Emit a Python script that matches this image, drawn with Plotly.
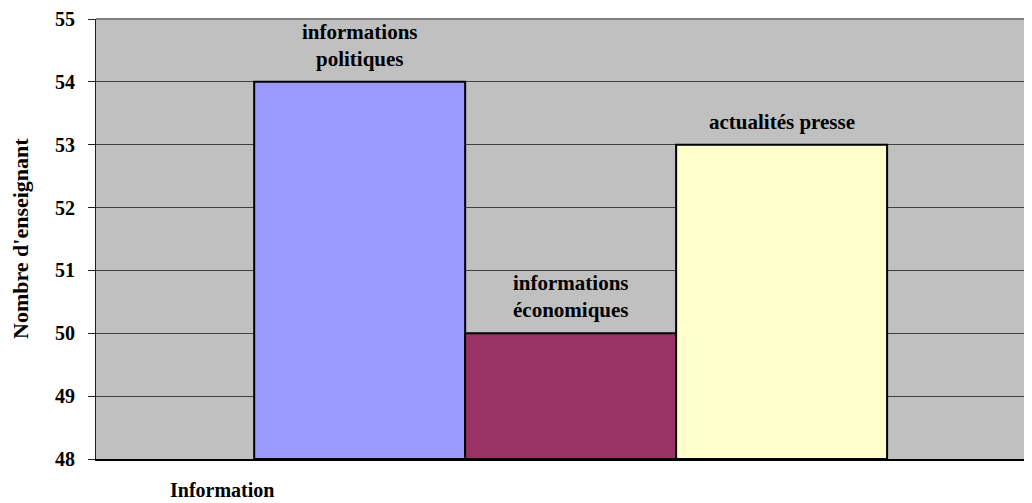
import plotly.graph_objects as go

series = ["informations<br>politiques", "informations<br>économiques", "actualités presse"]
values = [54, 50, 53]
colors = ["#9999FF", "#993366", "#FFFFCC"]
category = ["Information"]
y_title = "Nombre d'enseignant"
y_min, y_max = 48, 55

FONT = "Liberation Serif, Times New Roman, serif"
PLOT_W = 936

fig = go.Figure()
bw = 0.2254
start = -0.331
for i, (name, v, c) in enumerate(zip(series, values, colors)):
    off = start + i * bw
    fig.add_trace(go.Bar(
        x=category, y=[v - y_min], base=y_min, name=name,
        marker=dict(color=c, line=dict(color="black", width=2)),
        width=bw, offset=off,
    ))
    fig.add_annotation(
        text="<b>" + name + "</b>", xref="x", yref="y",
        x=category[0], y=v, xshift=(off + bw / 2) * PLOT_W, yshift=9,
        showarrow=False, xanchor="center", yanchor="bottom",
        font=dict(family=FONT, size=21, color="black"),
    )

fig.update_layout(
    width=1024, height=495,
    margin=dict(l=88, r=0, t=11, b=44),
    paper_bgcolor="white", plot_bgcolor="#C0C0C0",
    showlegend=False, barmode="overlay",
    font=dict(family=FONT, color="black"),
)
fig.update_xaxes(range=[-0.5, 0.5], showticklabels=False, showgrid=False,
                 showline=True, linecolor="black", linewidth=2,
                 ticks="", zeroline=False, automargin=False)
fig.update_yaxes(range=[y_min, y_max], dtick=1, tick0=y_min,
                 showgrid=True, gridcolor="#404040", gridwidth=1,
                 showline=True, linecolor="#202020", linewidth=1,
                 ticks="outside", ticklen=7, tickcolor="#202020",
                 ticklabelstandoff=9,
                 tickfont=dict(family=FONT, size=20, color="black", weight="bold"),
                 zeroline=False, automargin=False)
fig.add_shape(type="line", xref="paper", yref="paper", x0=0, x1=1, y0=1, y1=1,
              line=dict(color="#808080", width=2))
fig.add_annotation(text="<b>" + y_title + "</b>", xref="paper", yref="paper",
                   x=-76 / PLOT_W, y=0.5, showarrow=False, textangle=-90,
                   xanchor="center", yanchor="middle",
                   font=dict(family=FONT, size=22, color="black"))
fig.add_annotation(text="<b>" + category[0] + "</b>", xref="paper", yref="paper",
                   x=(222 - 96) / PLOT_W, y=-31 / 440, showarrow=False,
                   xanchor="center", yanchor="middle",
                   font=dict(family=FONT, size=20, color="black"))
fig.write_html("out.html")
